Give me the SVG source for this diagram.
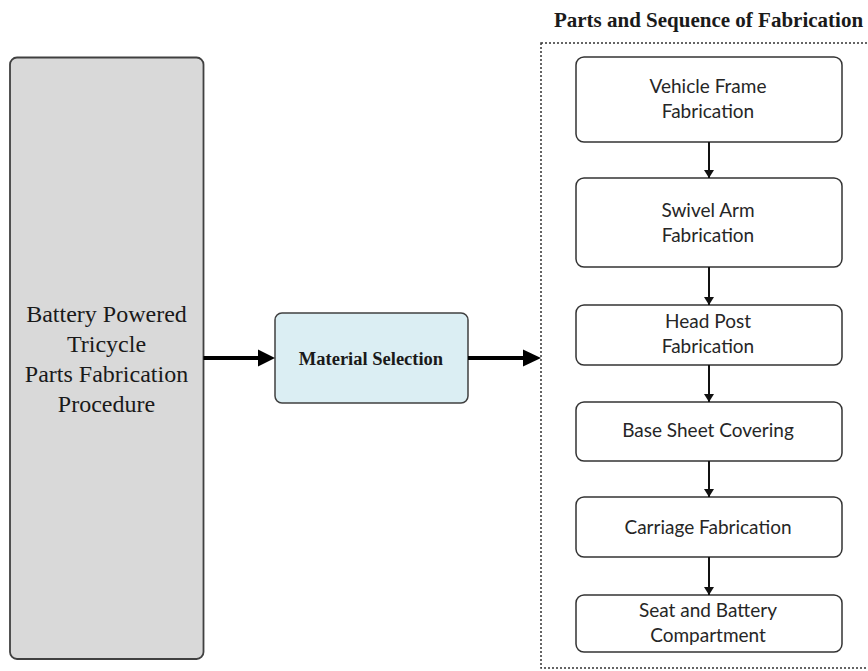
<svg xmlns="http://www.w3.org/2000/svg" width="868" height="671" viewBox="0 0 868 671">
<style>
.serif{font-family:"Liberation Serif","Times New Roman",serif;fill:#1a1a1a;text-anchor:middle}
.sans{font-family:Lato,"Open Sans",sans-serif;font-size:19px;fill:#262626;text-anchor:middle}
.step{fill:#ffffff;stroke:#333333;stroke-width:1.5}
.thin{stroke:#111;stroke-width:2;fill:none;marker-end:url(#ah)}
.thick{stroke:#000;stroke-width:4;fill:none}
</style>
<defs>
<marker id="ah" markerWidth="8" markerHeight="10" refX="8" refY="5" orient="auto" markerUnits="userSpaceOnUse" viewBox="0 0 8 10">
<path d="M0,0 L8,5 L0,10 Z" fill="#111"/>
</marker>
</defs>
<rect width="868" height="671" fill="#ffffff"/>
<text class="serif" x="708.5" y="27" font-size="21" font-weight="bold">Parts and Sequence of Fabrication</text>
<rect id="container" x="541" y="43" width="330" height="625" fill="none" stroke="#333" stroke-width="1.5" stroke-dasharray="2,2"/>
<g id="procedure">
<rect x="10" y="57.5" width="193.5" height="601.5" rx="7" fill="#d9d9d9" stroke="#404040" stroke-width="1.8"/>
<text class="serif" font-size="24" x="106.5" y="322">Battery Powered</text>
<text class="serif" font-size="24" x="106.5" y="352">Tricycle</text>
<text class="serif" font-size="24" x="106.5" y="382">Parts Fabrication</text>
<text class="serif" font-size="24" x="106.5" y="412">Procedure</text>
</g>
<g id="material">
<rect x="275" y="313" width="193" height="90" rx="7" fill="#dbeef3" stroke="#404040" stroke-width="1.5"/>
<text class="serif" font-size="18.5" font-weight="bold" x="371" y="365">Material Selection</text>
</g>
<g id="frame">
<rect class="step" x="576" y="57" width="266" height="85" rx="8"/>
<text class="sans" x="708" y="93">Vehicle Frame</text>
<text class="sans" x="708" y="118">Fabrication</text>
</g>
<g id="swivel">
<rect class="step" x="576" y="178" width="266" height="89" rx="8"/>
<text class="sans" x="708" y="217">Swivel Arm</text>
<text class="sans" x="708" y="242">Fabrication</text>
</g>
<g id="headpost">
<rect class="step" x="576" y="305" width="266" height="60" rx="8"/>
<text class="sans" x="708" y="328">Head Post</text>
<text class="sans" x="708" y="353">Fabrication</text>
</g>
<g id="basesheet">
<rect class="step" x="576" y="402" width="266" height="59" rx="8"/>
<text class="sans" x="708" y="437">Base Sheet Covering</text>
</g>
<g id="carriage">
<rect class="step" x="576" y="497" width="266" height="60" rx="8"/>
<text class="sans" x="708" y="534">Carriage Fabrication</text>
</g>
<g id="seat">
<rect class="step" x="576" y="595" width="266" height="57" rx="8"/>
<text class="sans" x="708" y="617">Seat and Battery</text>
<text class="sans" x="708" y="642">Compartment</text>
</g>
<g id="connectors">
<line class="thick" x1="203.5" y1="358" x2="260" y2="358"/>
<path d="M258,349.5 L275,358 L258,366.5 Z" fill="#000"/>
<line class="thick" x1="468" y1="358" x2="525" y2="358"/>
<path d="M523,349.5 L541,358 L523,366.5 Z" fill="#000"/>
<line class="thin" x1="709" y1="142" x2="709" y2="178"/>
<line class="thin" x1="709" y1="267" x2="709" y2="305"/>
<line class="thin" x1="709" y1="365" x2="709" y2="402"/>
<line class="thin" x1="709" y1="461" x2="709" y2="497"/>
<line class="thin" x1="709" y1="557" x2="709" y2="595"/>
</g>
</svg>
